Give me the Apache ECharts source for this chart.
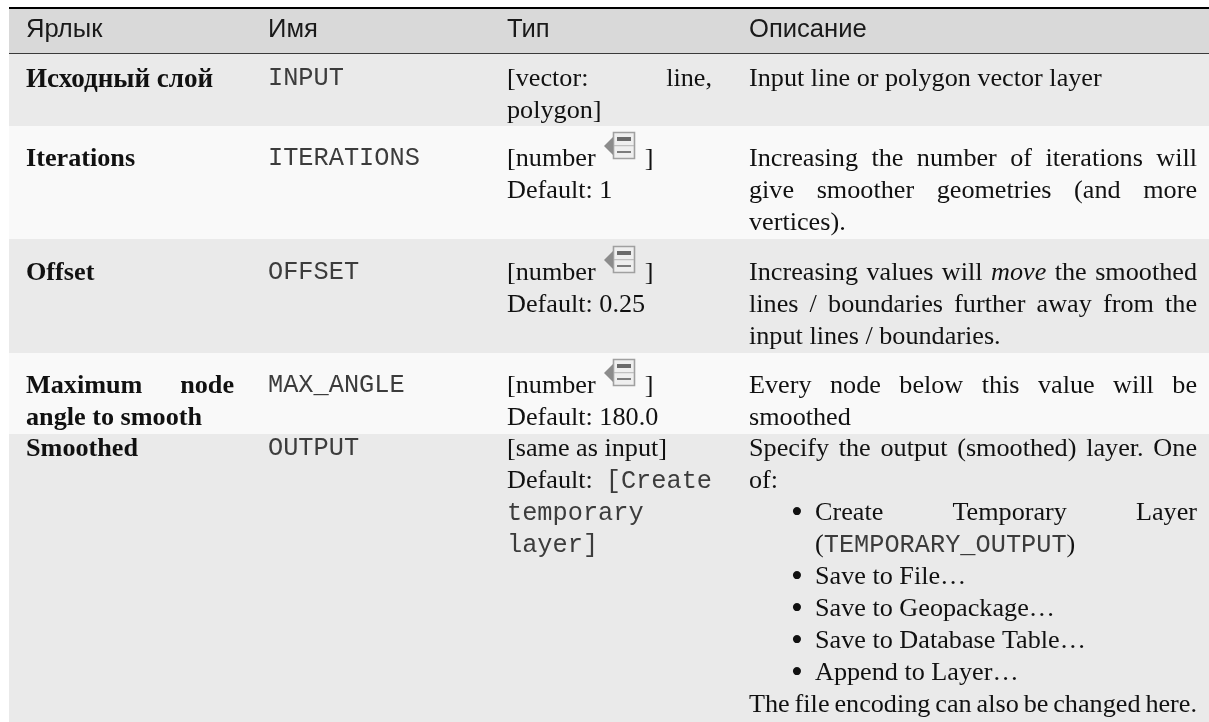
<!DOCTYPE html>
<html>
<head>
<meta charset="utf-8">
<script src="https://cdn.jsdelivr.net/npm/echarts@6/dist/echarts.min.js"></script>
<style>html,body{margin:0;background:#fff}#main{width:1209px;height:722px}</style>
</head>
<body>
<div id="main"></div>
<script>
var headers = ['Ярлык', 'Имя', 'Тип', 'Описание'];
var labels = [['Исходный слой'], ['Iterations'], ['Offset'], ['Maximum node|', 'angle to smooth'], ['Smoothed']];
var names = ['INPUT', 'ITERATIONS', 'OFFSET', 'MAX_ANGLE', 'OUTPUT'];
// `x` = monospace, *x* = italic, @ = room for the icon, | at the end = justified line
var types = [
    ['[vector: line,|', 'polygon]'],
    ['[number @ ]', 'Default: 1'],
    ['[number @ ]', 'Default: 0.25'],
    ['[number @ ]', 'Default: 180.0'],
    ['[same as input]', 'Default: `[Create`|', '`temporary`', '`layer]`']
];
var descriptions = [
    ['Input line or polygon vector layer'],
    ['Increasing the number of iterations will|', 'give smoother geometries (and more|', 'vertices).'],
    ['Increasing values will *move* the smoothed|', 'lines / boundaries further away from the|', 'input lines / boundaries.'],
    ['Every node below this value will be|', 'smoothed'],
    ['Specify the output (smoothed) layer. One|', 'of:']
];
var bullets = [
    ['Create Temporary Layer|', '(`TEMPORARY_OUTPUT`)'],
    ['Save to File…'],
    ['Save to Geopackage…'],
    ['Save to Database Table…'],
    ['Append to Layer…']
];
var descriptionTail = 'The file encoding can also be changed here.|';
var iconRows = [1, 2, 3];

var rowEdges = [9, 54, 126, 239, 353, 434, 722];
var rowColors = ['#d9d9d9', '#eaeaea', '#f9f9f9', '#eaeaea', '#f9f9f9', '#eaeaea'];
var colText = [26, 268, 507, 749];
var colRight = [234, 0, 712, 1197];
var bulletX = 791, bulletText = 815;
var lineGap = 32;
var firstLine = [78, 158, 272, 385, 448];
var iconRoom = 36;

var serif = '"Liberation Serif"', sans = '"Liberation Sans"', mono = '"Liberation Mono"';
var ctx = document.createElement('canvas').getContext('2d');

function measure(font, s) { ctx.font = font; return ctx.measureText(s).width; }

var styleFont = {
    n: '26.2px ' + serif,
    b: 'bold 26.2px ' + serif,
    c: 'bold 27.1px ' + serif, // the cyrillic bold of the original runs a bit wider
    i: 'italic 26.2px ' + serif,
    m: '25.3px ' + mono
};

function parseWords(line, bold) {
    return line.replace(/\|$/, '').split(' ').filter(Boolean).map(function (w) {
        var m;
        if (w === '@') return {t: ' ', s: 'ic', w: iconRoom};
        if ((m = w.match(/^\(`(.*)`\)$/))) return {parts: [{t: '(', s: 'n'}, {t: m[1], s: 'm'}, {t: ')', s: 'n'}]};
        if ((m = w.match(/^`(.*)`$/))) return {t: m[1], s: 'm'};
        if ((m = w.match(/^\*(.*)\*$/))) return {t: m[1], s: 'i'};
        return {t: w, s: bold ? (/[А-я]/.test(w) ? 'c' : 'b') : 'n'};
    });
}

// one line of a cell as a rich text, with the spaces widened when it is justified
function lineStyle(line, x, right, bold) {
    var justified = /\|$/.test(line);
    var words = parseWords(line, bold);
    var total = 0;
    words.forEach(function (w) {
        (w.parts || [w]).forEach(function (p) { total += p.w || measure(styleFont[p.s], p.t); });
    });
    var gap = justified && words.length > 1 ? (right - x - total) / (words.length - 1) : measure(styleFont.n, ' ');
    var text = words.map(function (w) {
        return (w.parts || [w]).map(function (p) { return '{' + p.s + '|' + p.t + '}'; }).join('');
    }).join('{g| }');
    var rich = {g: {width: gap, font: styleFont.n}, ic: {width: iconRoom, font: styleFont.n}};
    ['n', 'b', 'c', 'i', 'm'].forEach(function (k) {
        rich[k] = {font: styleFont[k], fill: k === 'm' ? '#3c3c3c' : '#111'};
    });
    return {text: text, rich: rich, verticalAlign: 'middle'};
}

var textLines = [];
function addCell(lines, x, right, start, bold) {
    lines.forEach(function (l, i) {
        textLines.push({line: l, x: x, right: right, y: start + i * lineGap, bold: bold});
    });
}
labels.forEach(function (l, i) { addCell(l, colText[0], colRight[0], firstLine[i], true); });
types.forEach(function (l, i) { addCell(l, colText[2], colRight[2], firstLine[i], false); });
descriptions.forEach(function (l, i) { addCell(l, colText[3], colRight[3], firstLine[i], false); });

var bulletLines = [];
var nextLine = firstLine[4] + 2 * lineGap;
bullets.forEach(function (b) {
    bulletLines.push(nextLine);
    addCell(b, bulletText, colRight[3], nextLine, false);
    nextLine += b.length * lineGap;
});
addCell([descriptionTail], colText[3], colRight[3], nextLine, false);

var chart = echarts.init(document.getElementById('main'));

function textEl(api, px, py, style) {
    var c = api.coord([px, py]);
    return {type: 'text', style: Object.assign({x: c[0], y: c[1]}, style)};
}

function customSeries(count, renderItem) {
    var data = [];
    for (var i = 0; i < count; i++) data.push([i]);
    return {type: 'custom', silent: true, coordinateSystem: 'cartesian2d', data: data, renderItem: renderItem, clip: false};
}

var seriesList = [
    // row bands
    customSeries(rowColors.length, function (params, api) {
        var i = api.value(0);
        var a = api.coord([9, rowEdges[i]]), b = api.coord([1209, rowEdges[i + 1]]);
        return {type: 'rect', shape: {x: a[0], y: a[1], width: b[0] - a[0], height: b[1] - a[1]}, style: {fill: rowColors[i]}};
    }),
    // table rules
    customSeries(2, function (params, api) {
        var i = api.value(0);
        var y = i ? 53.5 : 8;
        var a = api.coord([9, y]), b = api.coord([1209, y]);
        return {type: 'line', shape: {x1: a[0], y1: a[1], x2: b[0], y2: b[1]}, style: {stroke: i ? '#3a3a3a' : '#000', lineWidth: i ? 1 : 2}};
    }),
    // header
    customSeries(headers.length, function (params, api) {
        var i = api.value(0);
        return textEl(api, colText[i], 30, {text: headers[i], font: '25.6px ' + sans, fill: '#1a1a1a', verticalAlign: 'middle'});
    }),
    // parameter names
    customSeries(names.length, function (params, api) {
        var i = api.value(0);
        return textEl(api, colText[1], firstLine[i], {text: names[i], font: styleFont.m, fill: '#3c3c3c', verticalAlign: 'middle'});
    }),
    // cell text
    customSeries(textLines.length, function (params, api) {
        var t = textLines[api.value(0)];
        return textEl(api, t.x, t.y + 1.5, lineStyle(t.line, t.x, t.right, t.bold));
    }),
    // list bullets
    customSeries(bulletLines.length, function (params, api) {
        return textEl(api, bulletX, bulletLines[api.value(0)] + 2, {text: '•', font: '34px ' + serif, fill: '#111', verticalAlign: 'middle'});
    }),
    // the little "advanced" icon after [number
    customSeries(iconRows.length, function (params, api) {
        var c = api.coord([604, firstLine[iconRows[api.value(0)]] - 26]);
        return {
            type: 'group', x: c[0], y: c[1],
            children: [
                {type: 'rect', shape: {x: 9.5, y: 0.5, width: 21, height: 26}, style: {fill: '#efefef', stroke: '#a0a0a0', lineWidth: 1.6}},
                {type: 'polygon', shape: {points: [[0, 14], [9, 5], [9, 23]]}, style: {fill: '#8c8c8c'}},
                {type: 'rect', shape: {x: 10, y: 13.2, width: 20, height: 1}, style: {fill: '#b4b4b4'}},
                {type: 'rect', shape: {x: 13, y: 5, width: 14, height: 4}, style: {fill: '#6a6a6a'}},
                {type: 'rect', shape: {x: 13, y: 19, width: 14, height: 2}, style: {fill: '#7c7c7c'}}
            ]
        };
    })
];

chart.setOption({
    animation: false,
    grid: {left: 0, right: 0, top: 0, bottom: 0},
    xAxis: {type: 'value', min: 0, max: 1209, show: false},
    yAxis: {type: 'value', min: 0, max: 722, inverse: true, show: false},
    series: seriesList
});
</script>
</body>
</html>
